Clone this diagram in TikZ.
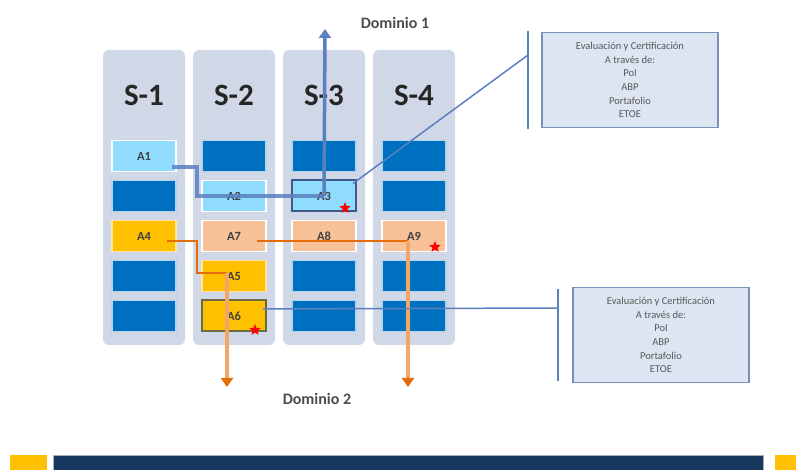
\documentclass[tikz,border=0pt]{standalone}
\usepackage{fontspec}
\setmainfont{Carlito}
\usetikzlibrary{shapes.geometric,arrows.meta}
\definecolor{colbg}{HTML}{D0D8E8}
\definecolor{darkbox}{HTML}{0070C0}
\definecolor{lightblue}{HTML}{8FDCFE}
\definecolor{peach}{HTML}{F8C197}
\definecolor{gold}{HTML}{FFC000}
\definecolor{bluelink}{HTML}{5A80BF}
\definecolor{orangelink}{HTML}{E46C0A}
\definecolor{orangeshaft}{HTML}{F2A66A}
\definecolor{notefill}{HTML}{DCE5F1}
\definecolor{noteedge}{HTML}{7890B8}
\definecolor{navy}{HTML}{17375E}
\tikzset{
  semcol/.style={fill=colbg, rounded corners=6pt, minimum width=82pt, minimum height=295pt, inner sep=0pt},
  cell/.style={draw=white!70!darkbox, line width=1.5pt, minimum width=64pt, minimum height=31pt, inner sep=0pt, font=\bfseries\fontsize{12.5}{13}\selectfont, text=black!75},
  dcell/.style={cell, fill=darkbox},
  lcell/.style={cell, fill=lightblue, draw=white},
  pcell/.style={cell, fill=peach, draw=white},
  ycell/.style={cell, fill=gold, draw=white!60!gold},
  semhead/.style={font=\bfseries\fontsize{31}{33}\selectfont, text=black!85},
  domlabel/.style={font=\bfseries\fontsize{16}{18}\selectfont, text=black!70},
  notebox/.style={fill=notefill, draw=noteedge, line width=1.5pt, minimum width=176pt, minimum height=95pt, align=center, font=\fontsize{10.5}{13.6}\selectfont, text=black!65},
  bluepath/.style={draw=bluelink, line width=3.5pt, opacity=0.85},
  orangepath/.style={draw=orangelink, line width=2.5pt},
  shaft/.style={draw=orangeshaft, line width=3.5pt, -{Triangle[length=9pt,width=12pt,color=orangelink]}},
  redstar/.style={star, star points=5, star point ratio=2.3, fill=red, inner sep=0pt, minimum size=12pt},
  bracketline/.style={draw=bluelink, line width=1.8pt},
  thinlink/.style={draw=bluelink, line width=1.5pt},
}
\begin{document}
\begin{tikzpicture}[x=1pt,y=-1pt]
\useasboundingbox (0,0) rectangle (796,470);

% semester columns
\node[semcol] (c1) at (144,197.5) {};
\node[semcol] (c2) at (234,197.5) {};
\node[semcol] (c3) at (324,197.5) {};
\node[semcol] (c4) at (414,197.5) {};
\node[semhead] (s1) at (144,95) {S-1};
\node[semhead] (s2) at (234,95) {S-2};
\node[semhead] (s3) at (324,95) {S-3};
\node[semhead] (s4) at (414,95) {S-4};

% activity cells, column 1
\node[lcell] (a1) at (144,156) {A1};
\node[dcell] (b12) at (144,196) {};
\node[ycell] (a4) at (144,236) {A4};
\node[dcell] (b14) at (144,276) {};
\node[dcell] (b15) at (144,316) {};
% column 2
\node[dcell] (b21) at (234,156) {};
\node[lcell] (a2) at (234,196) {A2};
\node[pcell] (a7) at (234,236) {A7};
\node[ycell] (a5) at (234,276) {A5};
\node[ycell, draw=black!45!olive!70!gray, line width=2pt] (a6) at (234,316) {A6};
% column 3
\node[dcell] (b31) at (324,156) {};
\node[lcell, draw=bluelink!70!black, line width=2pt] (a3) at (324,196) {A3};
\node[pcell] (a8) at (324,236) {A8};
\node[dcell] (b34) at (324,276) {};
\node[dcell] (b35) at (324,316) {};
% column 4
\node[dcell] (b41) at (414,156) {};
\node[dcell] (b42) at (414,196) {};
\node[pcell] (a9) at (414,236) {A9};
\node[dcell] (b44) at (414,276) {};
\node[dcell] (b45) at (414,316) {};

% domain 1 route
\coordinate (d1top) at (325,29);
\draw[bluepath] ([xshift=28pt,yshift=-11pt]a1.center) -| ([xshift=-37pt]a2.center) |- (a3.center);
\draw[draw=bluelink, line width=3.5pt, -{Triangle[length=9pt,width=12pt]}] (a3.center) -- (d1top);
\node[domlabel] (dom1) at (395,23) {Dominio 1};

% domain 2 routes
\coordinate (d2left) at (227,387);
\coordinate (d2right) at (408,387);
\coordinate (turn1) at (197,241);
\coordinate (turn2) at (197,273);
\draw[orangepath] ([xshift=23pt,yshift=-5pt]a4.center) -- (turn1) -- (turn2) -- (227,273);
\draw[orangepath] ([xshift=23pt,yshift=-5pt]a7.center) -- (408,241);
\draw[shaft] (227,273) -- (d2left);
\draw[shaft] (408,241) -- (d2right);
\node[domlabel] (dom2) at (317,399) {Dominio 2};

% assessment notes
\node[notebox] (n1) at (630,80) {Evaluación y Certificación\\A través de:\\PoI\\ABP\\Portafolio\\ETOE};
\node[notebox] (n2) at (661,335) {Evaluación y Certificación\\A través de:\\PoI\\ABP\\Portafolio\\ETOE};
\coordinate (br1t) at (528,31);
\coordinate (br1b) at (528,129);
\coordinate (br2t) at (558,289);
\coordinate (br2b) at (558,381);
\draw[bracketline] (br1t) -- (br1b);
\draw[bracketline] (br2t) -- (br2b);
\coordinate (br1j) at (528,55);
\coordinate (br2j) at (558,308);
\draw[thinlink] ([xshift=-4pt,yshift=-4pt]a3.north east) -- (br1j);
\draw[thinlink] ([xshift=-4pt,yshift=7pt]a6.east) -- (br2j);

% certification marks
\node[redstar] (st3) at (345,208) {};
\node[redstar] (st9) at (435,247) {};
\node[redstar] (st6) at (255,330) {};

% footer band
\node[fill=gold, minimum width=37pt, minimum height=16pt, inner sep=0pt] (fl) at (28.5,463) {};
\node[fill=navy, draw=navy!40!white, line width=1pt, minimum width=710pt, minimum height=16pt, inner sep=0pt] (fb) at (408,463.5) {};
\node[fill=gold, minimum width=22pt, minimum height=16pt, inner sep=0pt] (fr) at (786,463) {};
\end{tikzpicture}
\end{document}
